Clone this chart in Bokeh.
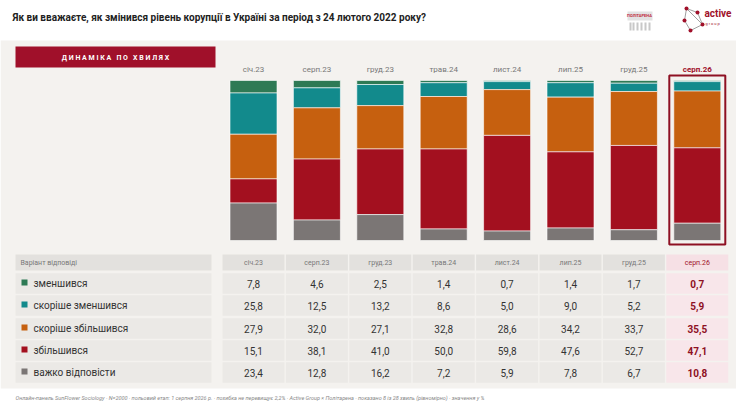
from bokeh.plotting import figure
from bokeh.models import Range1d
from bokeh.core.properties import value
from bokeh.embed import file_html
from bokeh.resources import INLINE

waves = ["січ.23", "серп.23", "груд.23", "трав.24", "лист.24", "лип.25", "груд.25", "серп.26"]
answers = ["зменшився", "скоріше зменшився", "скоріше збільшився", "збільшився", "важко відповісти"]
decreased = [7.8, 4.6, 2.5, 1.4, 0.7, 1.4, 1.7, 0.7]
rather_decreased = [25.8, 12.5, 13.2, 8.6, 5.0, 9.0, 5.2, 5.9]
rather_increased = [27.9, 32.0, 27.1, 32.8, 28.6, 34.2, 33.7, 35.5]
increased = [15.1, 38.1, 41.0, 50.0, 59.8, 47.6, 52.7, 47.1]
hard_to_say = [23.4, 12.8, 16.2, 7.2, 5.9, 7.8, 6.7, 10.8]
series = [decreased, rather_decreased, rather_increased, increased, hard_to_say]
colors = ["#2e7a55", "#128a8c", "#c6600f", "#a3101f", "#7b7675"]
title = "Як ви вважаєте, як змінився рівень корупції в Україні за період з 24 лютого 2022 року?"
banner = "\u00a0".join("ДИНАМІКА") + "\u00a0\u00a0\u00a0" + "\u00a0".join("ПО") + "\u00a0\u00a0\u00a0" + "\u00a0".join("ХВИЛЯХ")
footer = ("Онлайн-панель SunFlower Sociology · N=2000 · польовий етап: 1 серпня 2026 р. · похибка не перевищує 2,2% · "
          "Active Group × Політарена · показано 8 із 28 хвиль (рівномірно) · значення у %")

FONT = value("Roboto")
W, H = 736, 406
p = figure(width=W, height=H, x_range=Range1d(0, W), y_range=Range1d(H, 0),
           output_backend="svg", toolbar_location=None, min_border=0)
p.axis.visible = False
p.grid.visible = False
p.outline_line_color = None
p.background_fill_color = "white"

# backgrounds
p.quad(left=0, right=W, top=40, bottom=388, fill_color="#f4f2ef", line_color=None)
p.quad(left=15, right=215, top=46, bottom=67, fill_color="#a0102a", line_color=None)
p.text(x=[115], y=[57], text=[banner], text_color="white", text_font=FONT, text_font_size="7px",
       text_font_style="bold", text_align="center", text_baseline="middle")
p.text(x=[12], y=[17], text=[title], text_color="#222", text_font=FONT, text_font_size="10px",
       text_font_style="bold", text_baseline="middle")

# logos
p.quad(left=[629, 632, 636, 640, 644, 648], right=[631, 634, 638, 642, 646, 650], top=[22]*6, bottom=[30]*6,
       fill_color="#c8c8c8", line_color=None)
p.quad(left=627, right=652, top=11, bottom=20, fill_color="#e2e2e2", line_color=None)
p.text(x=[639], y=[15], text=["ПОЛІТАРЕНА"], text_color="#c0283a", text_font=FONT, text_font_size="4px",
       text_align="center", text_baseline="middle", text_font_style="bold")
nx = [686, 697, 702, 690, 684]
ny = [8, 12, 24, 30, 20]
p.line(x=nx + [686], y=ny + [8], line_color="#888", line_width=0.8)
p.line(x=[686, 702], y=[8, 24], line_color="#888", line_width=0.8)
p.scatter(x=nx, y=ny, size=4, fill_color="#a0102a", line_color=None)
p.text(x=[704], y=[13], text=["active"], text_color="#a0102a", text_font=FONT, text_font_size="10px",
       text_font_style="bold", text_baseline="middle")
p.text(x=[705], y=[23], text=["g r o u p"], text_color="#a0102a", text_font=FONT, text_font_size="4px",
       text_baseline="middle")

# bars
col0, step, bw = 253, 63.4, 47
bar_top, bar_h = 80, 160
centers = [col0 + i * step for i in range(len(waves))]
for i, w in enumerate(waves):
    last = i == len(waves) - 1
    p.text(x=[centers[i]], y=[69], text=[w], text_color="#a0102a" if last else "#777", text_font=FONT,
           text_font_size="8px", text_font_style="bold" if last else "normal", text_align="center",
           text_baseline="middle")
    total = sum(s[i] for s in series)
    cum = 0
    for s, c in zip(series, colors):
        top = bar_top + cum / total * bar_h
        cum += s[i]
        bot = bar_top + cum / total * bar_h
        p.quad(left=centers[i] - bw / 2, right=centers[i] + bw / 2, top=top, bottom=bot,
               fill_color=c, line_color="white", line_width=0.6)
p.quad(left=centers[-1] - 28, right=centers[-1] + 28, top=bar_top - 5, bottom=bar_top + bar_h + 4,
       fill_color=None, line_color="#8e1023", line_width=2)

# table
row_y = [262, 283, 305, 328, 350, 372]
rh = 20.5
p.quad(left=15, right=211, top=row_y[0] - 8, bottom=row_y[0] + 8, fill_color="#e3e1de", line_color=None)
p.text(x=[20], y=[row_y[0]], text=["Варіант відповіді"], text_color="#777", text_font=FONT,
       text_font_size="7px", text_baseline="middle")
for r, (a, c) in enumerate(zip(answers, colors)):
    y = row_y[r + 1]
    p.quad(left=15, right=211, top=y - rh / 2, bottom=y + rh / 2, fill_color="#ebe9e6", line_color=None)
    p.quad(left=21, right=27, top=y - 4, bottom=y + 2, fill_color=c, line_color=None)
    p.text(x=[33], y=[y], text=[a], text_color="#333", text_font=FONT, text_font_size="10px",
           text_baseline="middle")
for i, w in enumerate(waves):
    last = i == len(waves) - 1
    cx = centers[i]
    p.quad(left=cx - 31, right=cx + 31, top=row_y[0] - 8, bottom=row_y[0] + 8,
           fill_color="#f6e0e5" if last else "#e3e1de", line_color=None)
    p.text(x=[cx], y=[row_y[0]], text=[w], text_color="#a0102a" if last else "#777", text_font=FONT,
           text_font_size="7px", text_align="center", text_baseline="middle")
    for r, s in enumerate(series):
        y = row_y[r + 1]
        p.quad(left=cx - 31, right=cx + 31, top=y - rh / 2, bottom=y + rh / 2,
               fill_color="#f8e6ea" if last else "#ebe9e6", line_color=None)
        p.text(x=[cx], y=[y], text=[f"{s[i]:.1f}".replace(".", ",")], text_color="#8e1023" if last else "#333",
               text_font=FONT, text_font_size="10px", text_font_style="bold" if last else "normal",
               text_align="center", text_baseline="middle")

p.text(x=[15], y=[397], text=[footer], text_color="#888", text_font=FONT, text_font_size="5.5px",
       text_font_style="italic", text_baseline="middle")

open("out.html", "w").write(file_html(p, INLINE))
